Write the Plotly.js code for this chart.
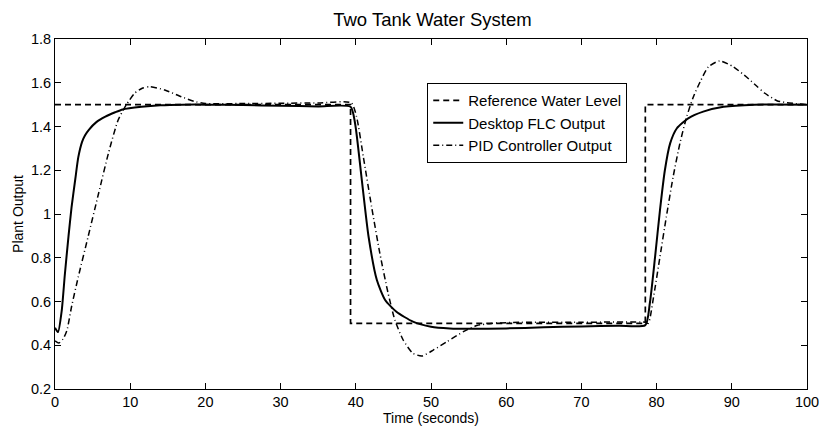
<!DOCTYPE html>
<html>
<head>
<meta charset="utf-8">
<script src="https://cdn.plot.ly/plotly-3.0.1.min.js"></script>
<style>html,body{margin:0;padding:0;background:#fff;}#chart{width:819px;height:426px;}</style>
</head>
<body>
<div id="chart"></div>
<script>
// Reference water level (step setpoint)
var refTime = [0, 39.3, 39.3, 78.5, 78.5, 100];
var refLevel = [1.5, 1.5, 0.5, 0.5, 1.5, 1.5];

// Desktop FLC output
var flcTime = [0, 0.4, 0.9, 1.3, 1.8, 2.2, 2.7, 3.1, 3.6, 4.0, 4.5, 5.5, 6.7, 8, 9, 11.5, 14, 17, 20, 25, 30, 35, 39.3, 39.9, 40.8, 41.7, 42.8, 43.9, 45.4, 47.6, 50, 52.5, 55, 60, 65, 70, 75, 78.5, 79.1, 79.8, 80.45, 81.1, 81.8, 82.7, 84.2, 86.2, 88.9, 93, 100];
var flcLevel = [0.48, 0.46, 0.56, 0.72, 0.9, 1.03, 1.16, 1.26, 1.33, 1.36, 1.385, 1.42, 1.445, 1.465, 1.478, 1.49, 1.497, 1.5, 1.5, 1.498, 1.495, 1.492, 1.49, 1.415, 1.155, 0.896, 0.698, 0.607, 0.553, 0.508, 0.485, 0.477, 0.475, 0.477, 0.482, 0.486, 0.489, 0.492, 0.592, 0.805, 1.018, 1.2, 1.323, 1.392, 1.437, 1.468, 1.49, 1.5, 1.5];

// PID controller output
var pidTime = [0, 0.5, 1.1, 1.6, 2.2, 3.1, 4.4, 5.8, 7.1, 8.4, 9.5, 10.6, 11.6, 12.6, 14.6, 16.8, 18.5, 20, 25, 30, 35, 39.4, 40.1, 41, 42.1, 43.2, 44.3, 45.2, 46.3, 47.6, 48.8, 50.3, 52.1, 54.3, 56.1, 58, 62, 70, 78.5, 78.9, 79.6, 80.45, 81.3, 82.2, 83.1, 84, 84.9, 85.8, 86.9, 88.4, 90.2, 92, 93.3, 94.4, 96, 97.3, 100];
var pidLevel = [0.42, 0.41, 0.43, 0.47, 0.576, 0.713, 0.896, 1.095, 1.277, 1.43, 1.5, 1.552, 1.575, 1.582, 1.567, 1.536, 1.515, 1.505, 1.505, 1.506, 1.508, 1.508, 1.445, 1.262, 1.033, 0.82, 0.637, 0.515, 0.424, 0.363, 0.351, 0.378, 0.416, 0.462, 0.49, 0.5, 0.505, 0.505, 0.505, 0.5, 0.622, 0.805, 0.988, 1.17, 1.323, 1.445, 1.536, 1.605, 1.673, 1.70, 1.673, 1.625, 1.585, 1.552, 1.518, 1.509, 1.5];

var seriesNames = ["Reference Water Level", "Desktop FLC Output", "PID Controller Output"];
var xTicks = [0, 10, 20, 30, 40, 50, 60, 70, 80, 90, 100];
var yTicks = [0.2, 0.4, 0.6, 0.8, 1, 1.2, 1.4, 1.6, 1.8];

var traces = [
  {x: refTime, y: refLevel, name: seriesNames[0], mode: 'lines', type: 'scatter',
   line: {color: '#000', width: 1.7, dash: '6px,4px'}},
  {x: flcTime, y: flcLevel, name: seriesNames[1], mode: 'lines', type: 'scatter',
   line: {color: '#000', width: 2, shape: 'spline', smoothing: 0.6}},
  {x: pidTime, y: pidLevel, name: seriesNames[2], mode: 'lines', type: 'scatter',
   line: {color: '#000', width: 1.5, dash: '6px,3px,1px,3px', shape: 'spline', smoothing: 0.6}}
];

var font = 'Liberation Sans, Arial, Helvetica, sans-serif';
var layout = {
  width: 819, height: 426,
  margin: {l: 55, r: 12, t: 39, b: 37},
  paper_bgcolor: '#fff', plot_bgcolor: '#fff',
  font: {family: font, size: 14, color: '#000'},
  title: {text: 'Two Tank Water System', font: {family: font, size: 18.5, color: '#000'}, x: 0.528, xanchor: 'center', y: 0.955, yanchor: 'middle'},
  showlegend: true,
  legend: {x: 0.495, y: 0.874, xanchor: 'left', yanchor: 'top', bgcolor: '#fff', bordercolor: '#000', borderwidth: 1,
           font: {family: font, size: 15, color: '#000'}, tracegroupgap: 0, itemwidth: 30},
  xaxis: {range: [0, 100], tickvals: xTicks, ticks: 'inside', ticklen: 6, tickcolor: '#000', tickwidth: 1,
          showline: true, linecolor: '#000', linewidth: 1, mirror: 'ticks', showgrid: false, zeroline: false,
          ticklabeloverflow: 'allow',
          tickfont: {family: font, size: 14.5, color: '#000'},
          title: {text: 'Time (seconds)', font: {family: font, size: 14, color: '#000'}, standoff: 1}},
  yaxis: {range: [0.2, 1.8], tickvals: yTicks, ticks: 'inside', ticklen: 6, tickcolor: '#000', tickwidth: 1,
          showline: true, linecolor: '#000', linewidth: 1, mirror: 'ticks', showgrid: false, zeroline: false,
          tickfont: {family: font, size: 14.5, color: '#000'},
          title: {text: 'Plant Output', font: {family: font, size: 14, color: '#000'}, standoff: 4}}
};

Plotly.newPlot('chart', traces, layout, {displayModeBar: false, staticPlot: true});
</script>
</body>
</html>
